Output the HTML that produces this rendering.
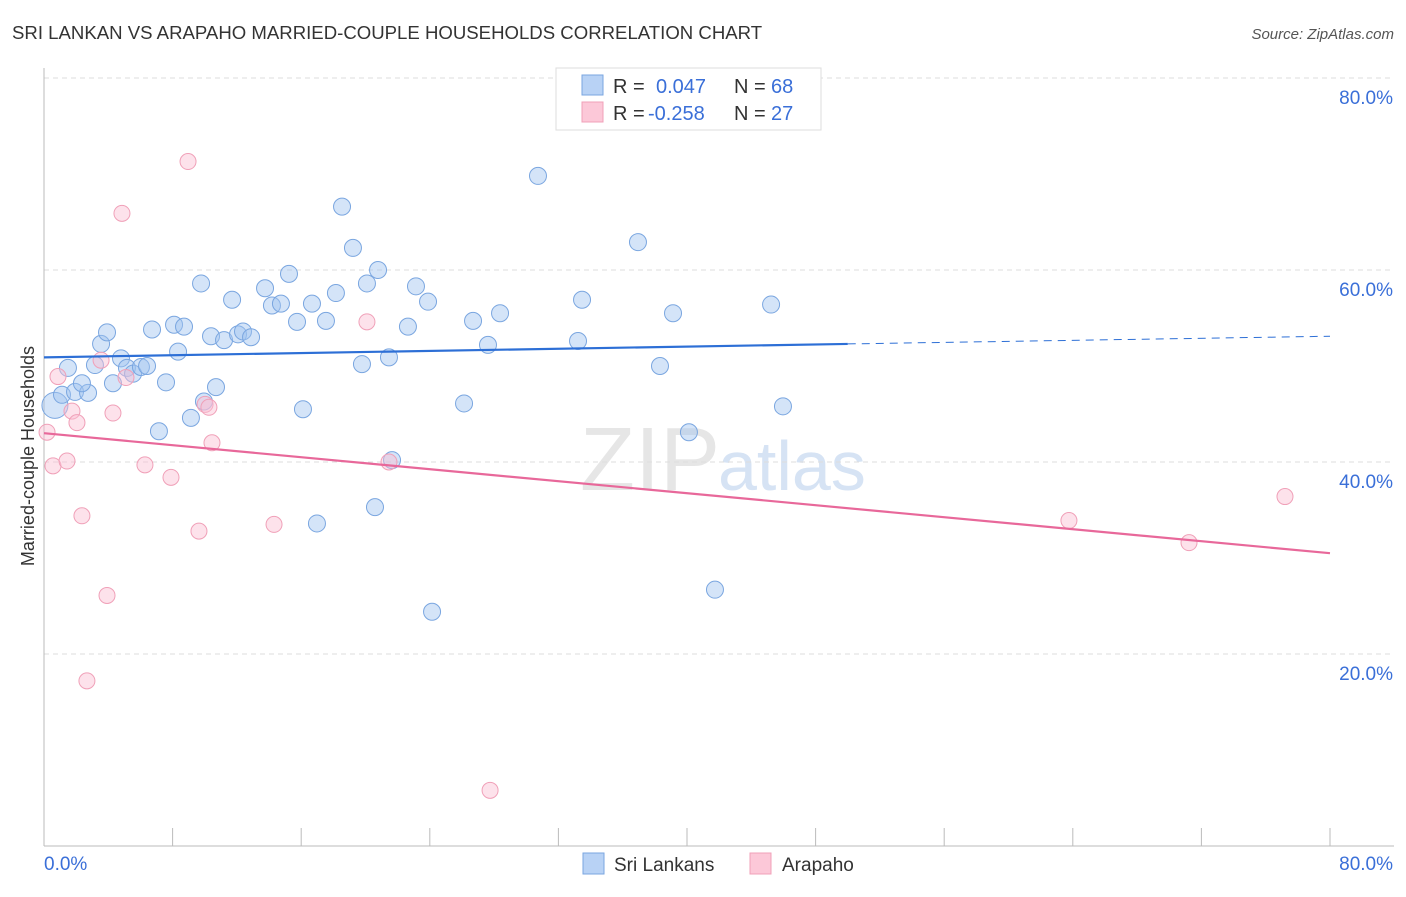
<!DOCTYPE html>
<html><head><meta charset="utf-8"><style>
body{margin:0;background:#fff;font-family:"Liberation Sans",sans-serif}
svg text{font-family:"Liberation Sans",sans-serif}
</style></head><body>
<svg id="c" width="1406" height="892" xmlns="http://www.w3.org/2000/svg">
<text x="12" y="39" font-size="18.6" fill="#333">SRI LANKAN VS ARAPAHO MARRIED-COUPLE HOUSEHOLDS CORRELATION CHART</text>
<text x="1394" y="39" font-size="15" fill="#555" font-style="italic" text-anchor="end">Source: ZipAtlas.com</text>
<text x="720" y="490" font-size="90" fill="#e6e6e6" text-anchor="end" font-family="Liberation Serif">ZIP</text>
<text x="718" y="490" font-size="70" fill="#d6e3f4">atlas</text>
<g id="grid"></g>
<g id="axes"></g>
<g id="pts"></g>
<g id="lines"></g>
<text transform="translate(34,456) rotate(-90)" font-size="18" fill="#333" text-anchor="middle">Married-couple Households</text>
<g>
<rect x="556" y="68" width="265" height="62" fill="#fff" stroke="#ddd"/>
<rect x="582" y="75" width="21" height="20" fill="#b8d2f5" stroke="#7aa6e0"/>
<rect x="582" y="102" width="21" height="20" fill="#fcc8d8" stroke="#f0a0b8"/>
<text x="613" y="93" font-size="20" fill="#333">R =</text><text x="656" y="93" font-size="20" fill="#3a6fd8">0.047</text>
<text x="734" y="93" font-size="20" fill="#333">N =</text><text x="771" y="93" font-size="20" fill="#3a6fd8">68</text>
<text x="613" y="120" font-size="20" fill="#333">R =</text><text x="648" y="120" font-size="20" fill="#3a6fd8">-0.258</text>
<text x="734" y="120" font-size="20" fill="#333">N =</text><text x="771" y="120" font-size="20" fill="#3a6fd8">27</text>
</g>
<g>
<rect x="583" y="853" width="21" height="21" fill="#b8d2f5" stroke="#7aa6e0"/>
<text x="614" y="871" font-size="19" fill="#333">Sri Lankans</text>
<rect x="750" y="853" width="21" height="21" fill="#fcc8d8" stroke="#f0a0b8"/>
<text x="782" y="871" font-size="19" fill="#333">Arapaho</text>
</g>
</svg>
<script>
const blueX=[0.68,1.12,1.93,2.74,1.49,2.36,3.17,3.55,3.92,4.29,4.79,5.16,5.54,6.03,6.41,6.72,7.15,7.59,8.09,8.34,8.71,9.14,9.77,9.95,10.39,10.70,11.20,11.70,12.07,12.38,12.88,13.75,14.18,14.74,15.24,15.74,16.11,16.67,16.98,17.54,18.16,18.54,19.22,19.78,20.09,20.59,20.78,21.46,21.65,22.64,23.14,23.89,24.14,26.13,26.69,27.62,28.37,30.73,33.22,33.47,36.95,38.32,39.13,40.12,41.74,45.23,45.97];
const blueY=[45.9,47.0,47.3,47.2,49.8,48.2,50.1,52.3,53.5,48.2,50.8,49.8,49.2,49.9,50.0,53.8,43.2,48.3,54.3,51.5,54.1,44.6,58.6,46.3,53.1,47.8,52.7,56.9,53.3,53.6,53.0,58.1,56.3,56.5,59.6,54.6,45.5,56.5,33.6,54.7,57.6,66.6,62.3,50.2,58.6,35.3,60.0,50.9,40.2,54.1,58.3,56.7,24.4,46.1,54.7,52.2,55.5,69.8,52.6,56.9,62.9,50.0,55.5,43.1,26.7,56.4,45.8];
const pinkX=[0.19,0.56,0.87,1.43,1.74,2.05,2.36,2.67,3.55,3.92,4.29,4.85,5.10,6.28,7.90,8.96,9.64,10.02,10.26,10.45,14.31,20.09,21.46,27.75,63.76,71.23,77.20];
const pinkY=[43.1,39.6,48.9,40.1,45.3,44.1,34.4,17.2,50.6,26.1,45.1,65.9,48.8,39.7,38.4,71.3,32.8,46.0,45.7,42.0,33.5,54.6,40.0,5.8,33.9,31.6,36.4];
const blueTrend=[50.9,52.3,53.1]; // at x=0, 50, 80
const pinkTrend=[43.0,30.5]; // at x=0, 80
const yTicks=[20,40,60,80];
const xTickLabels=["0.0%","80.0%"];
const NS="http://www.w3.org/2000/svg";
const sx=v=>44+v/80*1286, sy=v=>846-v/20*192;
function mk(t,a,p){const e=document.createElementNS(NS,t);for(const k in a)e.setAttribute(k,a[k]);document.getElementById(p).appendChild(e);return e;}
yTicks.forEach(v=>{
 const g=mk('line',{x1:44,x2:1394,y1:sy(v),y2:sy(v),stroke:'#ddd','stroke-dasharray':'5,4'},'grid');
 
 
 const t=mk('text',{x:1393,y:sy(v)+26,'font-size':19,fill:'#3a6fd8','text-anchor':'end'},'axes');t.textContent=v.toFixed(1)+'%';
 
 
});
mk('line',{x1:44,x2:44,y1:68,y2:846,stroke:'#bbb'},'axes');
mk('line',{x1:44,x2:1394,y1:846,y2:846,stroke:'#bbb'},'axes');
for(let i=0;i<=10;i++){const x=sx(i*8);mk('line',{x1:x,x2:x,y1:828,y2:846,stroke:'#bbb'},'axes');}
let t1=mk('text',{x:44,y:870,'font-size':19,fill:'#3a6fd8'},'axes');t1.textContent=xTickLabels[0];


let t2=mk('text',{x:1393,y:870,'font-size':19,fill:'#3a6fd8','text-anchor':'end'},'axes');t2.textContent=xTickLabels[1];


blueX.forEach((x,i)=>{const c=mk('circle',{cx:sx(x),cy:sy(blueY[i]),r:i==0?13:8.5,fill:'rgba(160,195,240,0.45)',stroke:'#7aa6e0','stroke-width':1},'pts');
 
 });
pinkX.forEach((x,i)=>{const c=mk('circle',{cx:sx(x),cy:sy(pinkY[i]),r:8,fill:'rgba(250,190,210,0.45)',stroke:'#f0a0b8','stroke-width':1},'pts');
 
 });
let l=mk('line',{x1:sx(0),y1:sy(blueTrend[0]),x2:sx(50),y2:sy(blueTrend[1]),stroke:'#2d6fd6','stroke-width':2.2},'lines');


l=mk('line',{x1:sx(50),y1:sy(blueTrend[1]),x2:sx(80),y2:sy(blueTrend[2]),stroke:'#2d6fd6','stroke-width':1,'stroke-dasharray':'8,6'},'lines');


l=mk('line',{x1:sx(0),y1:sy(pinkTrend[0]),x2:sx(80),y2:sy(pinkTrend[1]),stroke:'#e8689a','stroke-width':2.2},'lines');


</script>
</body></html>
